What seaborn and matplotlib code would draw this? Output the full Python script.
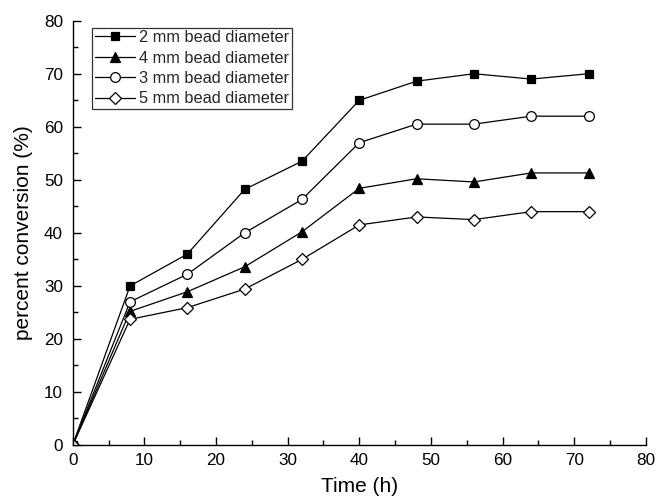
import matplotlib
matplotlib.use("Agg")
import matplotlib.pyplot as plt
from matplotlib.ticker import MultipleLocator
import seaborn as sns
import pandas as pd

# Conversion over time for each bead diameter
time_h = [0, 8, 16, 24, 32, 40, 48, 56, 64, 72]
conv_2mm = [0, 30.0, 36.0, 48.2, 53.5, 65.0, 68.6, 70.0, 69.0, 70.0]
conv_4mm = [0, 25.2, 28.9, 33.6, 40.2, 48.4, 50.2, 49.6, 51.3, 51.3]
conv_3mm = [0, 27.0, 32.2, 40.0, 46.3, 57.0, 60.5, 60.5, 62.0, 62.0]
conv_5mm = [0, 23.7, 25.9, 29.4, 35.0, 41.5, 43.0, 42.5, 44.0, 44.0]
labels = ["2 mm bead diameter", "4 mm bead diameter",
          "3 mm bead diameter", "5 mm bead diameter"]

sns.set_theme(style="ticks")
plt.rcParams["font.family"] = ["Liberation Sans", "DejaVu Sans"]

fig = plt.figure(figsize=(6.57, 4.98), dpi=100)
ax = fig.add_axes([0.1107, 0.1064, 0.8723, 0.8520])

series = [
    (conv_2mm, "s", "black", 6.0),
    (conv_4mm, "^", "black", 7.0),
    (conv_3mm, "o", "white", 7.0),
    (conv_5mm, "D", "white", 6.2),
]
for (vals, mk, fc, ms), lab in zip(series, labels):
    df = pd.DataFrame({"t": time_h, "c": vals})
    sns.lineplot(data=df, x="t", y="c", ax=ax, color="black", linewidth=0.9,
                 marker=mk, markersize=ms, markerfacecolor=fc,
                 markeredgecolor="black", markeredgewidth=0.9, label=lab)

ax.set_xlim(0, 80)
ax.set_ylim(0, 80)
ax.xaxis.set_major_locator(MultipleLocator(10))
ax.xaxis.set_minor_locator(MultipleLocator(5))
ax.yaxis.set_major_locator(MultipleLocator(10))
ax.yaxis.set_minor_locator(MultipleLocator(5))
ax.tick_params(which="both", direction="in", color="black", width=1.0,
               labelsize=12.3, labelcolor="black")
ax.tick_params(axis="x", which="both", pad=6)
ax.tick_params(axis="y", which="both", pad=7)
ax.tick_params(which="major", length=6)
ax.tick_params(which="minor", length=3.5)
for side in ("top", "right"):
    ax.spines[side].set_visible(False)
for side in ("left", "bottom"):
    ax.spines[side].set_color("black")
    ax.spines[side].set_linewidth(1.0)

ax.set_xlabel("Time (h)", fontsize=15, color="black", labelpad=6)
ax.set_ylabel("percent conversion (%)", fontsize=15, color="black", labelpad=8)

leg = ax.legend(loc="upper left", bbox_to_anchor=(0.0342, 0.9835), fontsize=11.8,
                frameon=True, fancybox=False, edgecolor="black",
                handlelength=2.45, handletextpad=0.25, borderpad=0.15,
                borderaxespad=0.0, labelspacing=0.33)
leg.get_frame().set_linewidth(0.9)

fig.savefig("out.png", dpi=100)
